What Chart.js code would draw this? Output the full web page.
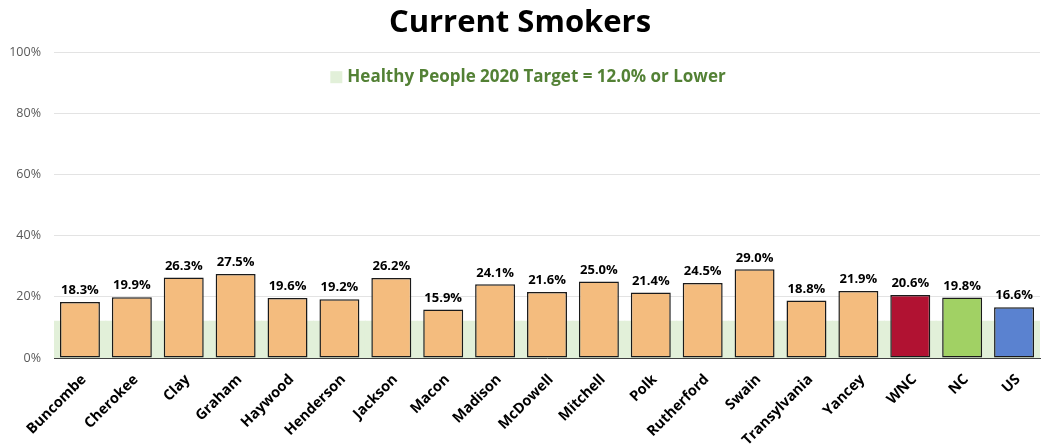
<!DOCTYPE html>
<html>
<head>
<meta charset="utf-8">
<script src="https://cdn.jsdelivr.net/npm/chart.js@4"></script>
<style>
  html, body { margin: 0; padding: 0; background: #fff; }
  #wrap { width: 1047px; height: 445px; }
</style>
</head>
<body>
<div id="wrap"><canvas id="myChart"></canvas></div>
<script>
var counties = ['Buncombe', 'Cherokee', 'Clay', 'Graham', 'Haywood', 'Henderson', 'Jackson', 'Macon', 'Madison',
    'McDowell', 'Mitchell', 'Polk', 'Rutherford', 'Swain', 'Transylvania', 'Yancey', 'WNC', 'NC', 'US'];
var smokers = [18.3, 19.9, 26.3, 27.5, 19.6, 19.2, 26.2, 15.9, 24.1, 21.6, 25.0, 21.4, 24.5, 29.0, 18.8, 21.9, 20.6, 19.8, 16.6];
var target = 12.0;
var yTicks = [0, 20, 40, 60, 80, 100];

var barColors = [];
for (var i in counties) {
    if (counties[i] == 'WNC') barColors.push('#B11232');
    else if (counties[i] == 'NC') barColors.push('#A1D164');
    else if (counties[i] == 'US') barColors.push('#5A82D0');
    else barColors.push('#F4BC7E');
}
var targetData = counties.map(function(){ return target; });

var FONT = "'Open Sans', 'Noto Sans', sans-serif";

// value labels above bars + legend drawn inside the plot
var extras = {
    id: 'extras',
    afterDatasetsDraw: function(chart) {
        var ctx = chart.ctx;
        var meta = chart.getDatasetMeta(0);
        ctx.save();
        ctx.font = "bold 13px " + FONT;
        ctx.fillStyle = '#000';
        ctx.textAlign = 'center';
        ctx.textBaseline = 'bottom';
        meta.data.forEach(function(bar, i) {
            ctx.fillText(smokers[i].toFixed(1) + '%', bar.x, bar.y - 5);
        });

        var area = chart.chartArea;
        var label = chart.data.datasets[1].label;
        ctx.font = "bold 17px " + FONT;
        var w = ctx.measureText(label).width;
        var box = 12;
        var total = box + 5 + w;
        var x0 = (area.left + area.right) / 2 - total / 2 - 19;
        var yc = area.top + 25;
        ctx.fillStyle = '#E2F0D9';
        ctx.fillRect(x0, yc - box / 2, box, box);
        ctx.fillStyle = '#538135';
        ctx.textAlign = 'left';
        ctx.textBaseline = 'middle';
        ctx.fillText(label, x0 + box + 5, yc);
        ctx.restore();
    }
};

var chartdata = {
    labels: counties,
    datasets: [
        {
            label: 'Current Smokers',
            data: smokers,
            backgroundColor: barColors,
            borderColor: '#1a1a1a',
            borderWidth: 1.5,
            borderSkipped: false,
            barPercentage: 0.77,
            categoryPercentage: 1.0
        },
        {
            label: 'Healthy People 2020 Target = 12.0% or Lower',
            data: targetData,
            backgroundColor: '#E2F0D9',
            borderWidth: 0,
            barPercentage: 1.0,
            categoryPercentage: 1.0,
            inflateAmount: 0.5
        }
    ]
};

var ctx = document.getElementById('myChart');
var LineGraph = new Chart(ctx, {
    type: 'bar',
    data: chartdata,
    plugins: [extras],
    options: {
        responsive: true,
        maintainAspectRatio: false,
        animation: false,
        layout: { padding: { left: 0, right: 7, top: 0, bottom: 0 } },
        plugins: {
            legend: { display: false },
            tooltip: { enabled: false },
            title: {
                display: true,
                text: 'Current Smokers',
                color: '#000',
                font: { family: FONT, size: 31, weight: 'bold' },
                padding: { top: 5, bottom: 10 }
            }
        },
        scales: {
            x: {
                stacked: true,
                grid: { display: false },
                border: { color: '#404040', width: 1 },
                afterFit: function(axis) { axis.height = 87; },
                ticks: {
                    color: '#000',
                    font: { family: FONT, size: 14.5, weight: 'bold' },
                    minRotation: 45,
                    maxRotation: 45,
                    labelOffset: 4,
                    padding: 5
                }
            },
            y: {
                min: 0,
                max: 100,
                afterBuildTicks: function(axis) {
                    axis.ticks = yTicks.map(function(v){ return { value: v }; });
                },
                afterFit: function(axis) { axis.width = 54; },
                grid: { color: '#E3E3E3', drawTicks: false },
                border: { display: false },
                ticks: {
                    color: '#595959',
                    font: { family: FONT, size: 12.5 },
                    padding: 13,
                    callback: function(v){ return v + '%'; }
                }
            }
        }
    }
});
</script>
</body>
</html>
